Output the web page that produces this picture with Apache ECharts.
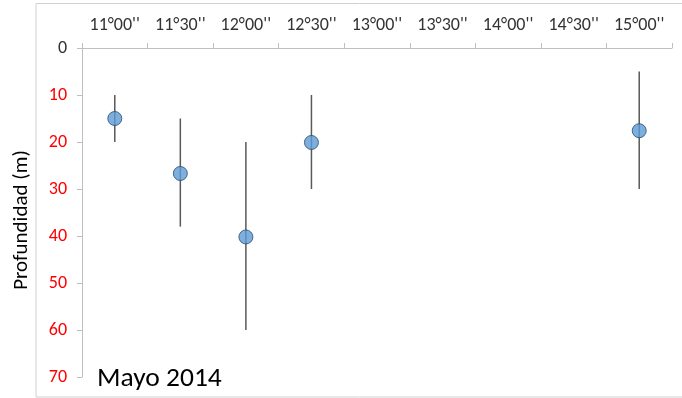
<!DOCTYPE html>
<html>
<head>
<meta charset="utf-8">
<script src="https://cdn.jsdelivr.net/npm/echarts@6/dist/echarts.min.js"></script>
<style>
  html, body { margin: 0; padding: 0; background: #fff; }
  #chart { width: 682px; height: 398px; }
</style>
</head>
<body>
<div id="chart"></div>
<script>
// Sampling times (top axis)
const categories = ["11°00''", "11°30''", "12°00''", "12°30''", "13°00''", "13°30''", "14°00''", "14°30''", "15°00''"];
// Mean depth (m) per time, with the depth range covered
const meanDepth = [15, 26.7, 40.2, 20.1, null, null, null, null, 17.6];
const minDepth  = [10, 15, 20, 10, null, null, null, null, 5];
const maxDepth  = [20, 38, 60, 30, null, null, null, null, 30];
// Depth tick values
const depthTicks = [0, 10, 20, 30, 40, 50, 60, 70];

const rangeData = categories.map((c, i) => [i, minDepth[i], maxDepth[i]]).filter(d => d[1] != null);
const meanData = categories.map((c, i) => [i, meanDepth[i]]).filter(d => d[1] != null);

const chart = echarts.init(document.getElementById('chart'));
const fontFamily = 'Carlito, Calibri, Lato, sans-serif';

chart.setOption({
  animation: false,
  textStyle: { fontFamily },
  grid: { left: 82, right: 10, top: 48, bottom: 21, containLabel: false },
  graphic: [
    {
      type: 'rect',
      shape: { x: 36, y: 3.5, width: 660, height: 393.5 },
      style: { fill: 'none', stroke: '#d0d0d0', lineWidth: 1 },
      silent: true,
      z: -1
    },
    {
      type: 'text',
      x: 97,
      y: 379,
      style: { text: 'Mayo 2014', fontSize: 27.5, fill: '#000', fontFamily, verticalAlign: 'middle' }
    }
  ],
  xAxis: {
    type: 'category',
    position: 'top',
    data: categories,
    boundaryGap: true,
    axisLine: { lineStyle: { color: '#bfbfbf', width: 1 } },
    axisTick: { show: true, inside: false, length: 5, interval: 0, lineStyle: { color: '#bfbfbf' } },
    axisLabel: { interval: 0, color: '#333333', fontSize: 18, margin: 14 },
    splitLine: { show: false }
  },
  yAxis: {
    type: 'value',
    inverse: true,
    min: depthTicks[0],
    max: depthTicks[depthTicks.length - 1],
    interval: 10,
    name: 'Profundidad (m)',
    nameLocation: 'middle',
    nameRotate: 90,
    nameGap: 50,
    nameTextStyle: { fontSize: 21, color: '#000', padding: [0, 15, 0, 0] },
    axisLine: { show: true, lineStyle: { color: '#bfbfbf', width: 1 } },
    axisTick: { show: true, inside: false, length: 5, lineStyle: { color: '#bfbfbf' } },
    axisLabel: {
      fontSize: 18,
      margin: 15,
      formatter: v => (v === 0 ? '{z|' + v + '}' : '{r|' + v + '}'),
      rich: {
        z: { color: '#333333', fontSize: 18, fontFamily },
        r: { color: '#ff0000', fontSize: 18, fontFamily }
      }
    },
    splitLine: { show: false }
  },
  series: [
    {
      type: 'custom',
      name: 'Rango',
      data: rangeData,
      encode: { x: 0, y: [1, 2] },
      renderItem: function (params, api) {
        const i = api.value(0);
        const p1 = api.coord([i, api.value(1)]);
        const p2 = api.coord([i, api.value(2)]);
        return {
          type: 'line',
          shape: { x1: p1[0], y1: p1[1], x2: p2[0], y2: p2[1] },
          style: { stroke: '#595959', lineWidth: 1.5 }
        };
      },
      z: 2
    },
    {
      type: 'scatter',
      name: 'Media',
      data: meanData,
      symbol: 'circle',
      symbolSize: 14,
      itemStyle: { color: '#5b9bd5', borderColor: '#2a4a6a', borderWidth: 1 },
      z: 3
    }
  ]
});
</script>
</body>
</html>
